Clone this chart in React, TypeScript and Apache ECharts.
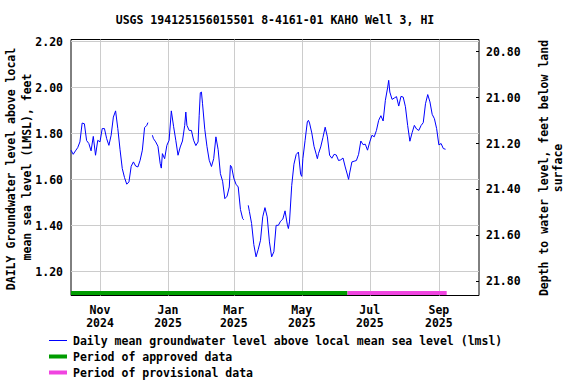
import React, { useEffect, useRef } from "react";
import * as echarts from "echarts";

// ---------- data ----------
const startDateUTC = Date.UTC(2024, 9, 6); // 2024-10-06
const axisEndDay = 366; // 2025-10-07

const sampleDays = [
  0, 2, 4, 6, 8, 10, 12, 14, 16, 18, 20, 22, 24, 26, 28, 30, 32, 34, 36, 38, 40, 42, 44, 46, 48, 50, 52, 54, 56, 58,
  60, 62, 64, 66, 68, 69, 71, 73, 74, 76, 78, 80, 81, 82, 84, 86, 88, 90, 92, 94, 96, 98, 100, 102, 103, 104, 106,
  108, 110, 112, 114, 115, 116, 117, 118, 120, 122, 124, 126, 128, 130, 132, 134, 136, 138, 140, 142, 143, 144, 146,
  148, 150, 152, 154, 155, 157, 159, 160, 162, 164, 166, 168, 170, 172, 174, 176, 178, 180, 182, 184, 186, 188, 190,
  192, 194, 195, 196, 198, 200, 202, 204, 206, 207, 208, 210, 212, 213, 214, 216, 218, 220, 221, 222, 224, 226, 228,
  230, 232, 234, 236, 238, 240, 242, 244, 246, 248, 249, 250, 252, 254, 256, 258, 260, 262, 264, 266, 268, 270, 272,
  274, 276, 278, 280, 282, 284, 285, 286, 288, 290, 292, 294, 296, 298, 300, 302, 304, 306, 308, 310, 312, 314, 316,
  318, 320, 322, 324, 326, 328, 330, 332, 334, 336,
];

const groundwaterLevel: (number | null)[] = [
  1.728, 1.71, 1.725, 1.739, 1.764, 1.846, 1.843, 1.77, 1.757, 1.725, 1.788, 1.706, 1.771, 1.764, 1.822, 1.822, 1.778,
  1.749, 1.793, 1.872, 1.899, 1.822, 1.73, 1.648, 1.609, 1.58, 1.59, 1.658, 1.677, 1.659,
  1.655, 1.684, 1.728, 1.826, 1.836, 1.848, null, 1.793, 1.778, 1.764, 1.745, 1.67, 1.65, 1.713, 1.691, 1.749, 1.771,
  1.899, 1.832, 1.771, 1.706, 1.742, 1.768, 1.836, 1.894, 1.836, 1.814,
  1.814, 1.771, 1.748, 1.764, 1.88, 1.978, 1.981, 1.93, 1.819, 1.743, 1.684, 1.657, 1.691, 1.786, 1.73, 1.626, 1.593,
  1.517, 1.528, 1.568, 1.662, 1.657, 1.607,
  1.58, 1.568, 1.47, 1.43, 1.425, null, 1.488, 1.462, 1.409, 1.317, 1.264, 1.297, 1.336, 1.438, 1.478, 1.438, 1.329,
  1.264, 1.286, 1.401, 1.401, 1.419, 1.428,
  1.464, 1.406, 1.387, 1.416, 1.575, 1.667, 1.709, 1.72, 1.623, 1.614, 1.691, 1.771, 1.851, 1.858, 1.846, 1.803, 1.745,
  1.71, 1.691, 1.713, 1.742, 1.783, 1.828,
  1.786, 1.706, 1.693, 1.71, 1.707, 1.683, 1.686, 1.694, 1.655, 1.62, 1.601, 1.629, 1.677, 1.68, 1.683, 1.71, 1.768,
  1.752, 1.754, 1.728, 1.764, 1.793, 1.786,
  1.814, 1.858, 1.878, 1.855, 1.945, 1.999, 2.032, 1.981, 1.949, 1.955, 1.961, 1.92, 1.962, 1.959, 1.917, 1.836, 1.767,
  1.804, 1.836, 1.82, 1.814, 1.835, 1.848,
  1.93, 1.97, 1.938, 1.884, 1.865, 1.822, 1.751, 1.757, 1.735, 1.732,
];

const approvedPeriodDays = [0, 248];
const provisionalPeriodDays = [248, 337];

const leftTickValues = [1.2, 1.4, 1.6, 1.8, 2.0, 2.2];
const rightTickValues = [20.8, 21.0, 21.2, 21.4, 21.6, 21.8];
const monthTickDates = [
  [2024, 10, 1],
  [2025, 0, 1],
  [2025, 2, 1],
  [2025, 4, 1],
  [2025, 6, 1],
  [2025, 8, 1],
];
const monthNames = ["Jan", "Feb", "Mar", "Apr", "May", "Jun", "Jul", "Aug", "Sep", "Oct", "Nov", "Dec"];

const landSurfaceAboveLMSL = 22.957;

const titleText = "USGS 194125156015501 8-4161-01 KAHO Well 3, HI";
const leftAxisName = ["DAILY Groundwater level above local", "mean sea level (LMSL), feet"];
const rightAxisName = ["Depth to water level, feet below land", "surface"];
const legendLabels = [
  "Daily mean groundwater level above local mean sea level (lmsl)",
  "Period of approved data",
  "Period of provisional data",
];

// ---------- layout / style ----------
const Y_MIN = 1.0957;
const Y_MAX = 2.2096;
const BAR_LEVEL = 1.107;
const DAY_MS = 86400000;
const FONT = "bold 11.5px 'DejaVu Sans Mono', monospace";
const BLUE = "#0000ff";
const GREEN = "#009c00";
const PINK = "#f044e0";

const dayToTime = (d: number) => startDateUTC + d * DAY_MS;

export default function App() {
  const ref = useRef<HTMLDivElement>(null);

  useEffect(() => {
    if (!ref.current) return;
    const chart = echarts.init(ref.current, undefined, { renderer: "svg" });

    const levelData = sampleDays.map((d, i) => [dayToTime(d), groundwaterLevel[i] === null ? "-" : groundwaterLevel[i]]);
    const monthTicks = monthTickDates.map(([y, m, d]) => Date.UTC(y, m, d));

    const labelFont = {
      color: "#000",
      fontFamily: "'DejaVu Sans Mono', monospace",
      fontWeight: "bold",
      fontSize: 11.5,
    };

    const option: any = {
      animation: false,
      backgroundColor: "#ffffff",
      grid: {
        left: 71,
        top: 39.5,
        width: 408,
        height: 256,
        show: true,
        borderColor: "#000",
        borderWidth: 1,
        backgroundColor: "transparent",
        containLabel: false,
      },
      xAxis: {
        type: "value",
        min: dayToTime(0),
        max: dayToTime(axisEndDay),
        axisLine: { show: false },
        axisTick: { show: false, customValues: monthTicks },
        splitLine: { show: true, lineStyle: { color: "#cccccc", width: 1 } },
        axisLabel: {
          ...labelFont,
          customValues: monthTicks,
          margin: 8,
          lineHeight: 13.3,
          formatter: (v: number) => {
            const dt = new Date(v);
            return monthNames[dt.getUTCMonth()] + "\n" + dt.getUTCFullYear();
          },
        },
      },
      yAxis: [
        {
          type: "value",
          min: Y_MIN,
          max: Y_MAX,
          axisLine: { show: false },
          axisTick: { show: false, customValues: leftTickValues },
          splitLine: { show: true, lineStyle: { color: "#cccccc", width: 1 } },
          axisLabel: {
            ...labelFont,
            customValues: leftTickValues,
            margin: 8,
            formatter: (v: number) => v.toFixed(2),
          },
        },
        {
          type: "value",
          position: "right",
          inverse: true,
          min: landSurfaceAboveLMSL - Y_MAX,
          max: landSurfaceAboveLMSL - Y_MIN,
          axisLine: { show: false },
          axisTick: {
            show: true,
            inside: true,
            length: 3,
            customValues: rightTickValues,
            lineStyle: { color: "#000", width: 1 },
          },
          splitLine: { show: false },
          axisLabel: {
            ...labelFont,
            customValues: rightTickValues,
            margin: 7,
            formatter: (v: number) => v.toFixed(2),
          },
        },
      ],
      series: [
        {
          name: legendLabels[0],
          type: "line",
          data: levelData,
          showSymbol: false,
          connectNulls: false,
          lineStyle: { color: BLUE, width: 1 },
          itemStyle: { color: BLUE },
          z: 3,
        },
        {
          name: legendLabels[1],
          type: "line",
          data: approvedPeriodDays.map((d) => [dayToTime(d), BAR_LEVEL]),
          showSymbol: false,
          lineStyle: { color: GREEN, width: 4, cap: "butt" },
          itemStyle: { color: GREEN },
          z: 2,
        },
        {
          name: legendLabels[2],
          type: "line",
          data: provisionalPeriodDays.map((d) => [dayToTime(d), BAR_LEVEL]),
          showSymbol: false,
          lineStyle: { color: PINK, width: 4, cap: "butt" },
          itemStyle: { color: PINK },
          z: 2,
        },
      ],
      graphic: [
        {
          type: "text",
          x: 275,
          y: 20,
          style: { text: titleText, font: FONT, fill: "#000", align: "center", verticalAlign: "middle" },
        },
        {
          type: "text",
          x: 10.5,
          y: 169,
          rotation: Math.PI / 2,
          style: { text: leftAxisName[0], font: FONT, fill: "#000", align: "center", verticalAlign: "middle" },
        },
        {
          type: "text",
          x: 27,
          y: 167,
          rotation: Math.PI / 2,
          style: { text: leftAxisName[1], font: FONT, fill: "#000", align: "center", verticalAlign: "middle" },
        },
        {
          type: "text",
          x: 544,
          y: 168,
          rotation: Math.PI / 2,
          style: { text: rightAxisName[0], font: FONT, fill: "#000", align: "center", verticalAlign: "middle" },
        },
        {
          type: "text",
          x: 557.5,
          y: 168,
          rotation: Math.PI / 2,
          style: { text: rightAxisName[1], font: FONT, fill: "#000", align: "center", verticalAlign: "middle" },
        },
        {
          type: "line",
          shape: { x1: 49, y1: 340.5, x2: 67, y2: 340.5 },
          style: { stroke: BLUE, lineWidth: 1 },
        },
        {
          type: "line",
          shape: { x1: 49, y1: 356.5, x2: 67, y2: 356.5 },
          style: { stroke: GREEN, lineWidth: 4 },
        },
        {
          type: "line",
          shape: { x1: 49, y1: 372.5, x2: 67, y2: 372.5 },
          style: { stroke: PINK, lineWidth: 4 },
        },
        ...legendLabels.map((t, i) => ({
          type: "text",
          x: 73,
          y: 340.5 + i * 16,
          style: { text: t, font: FONT, fill: "#000", align: "left", verticalAlign: "middle" },
        })),
      ],
    };

    chart.setOption(option);
    return () => chart.dispose();
  }, []);

  return (
    <div
      ref={ref}
      style={{ position: "absolute", left: 0, top: 0, width: 576, height: 384, background: "#fff" }}
    />
  );
}
